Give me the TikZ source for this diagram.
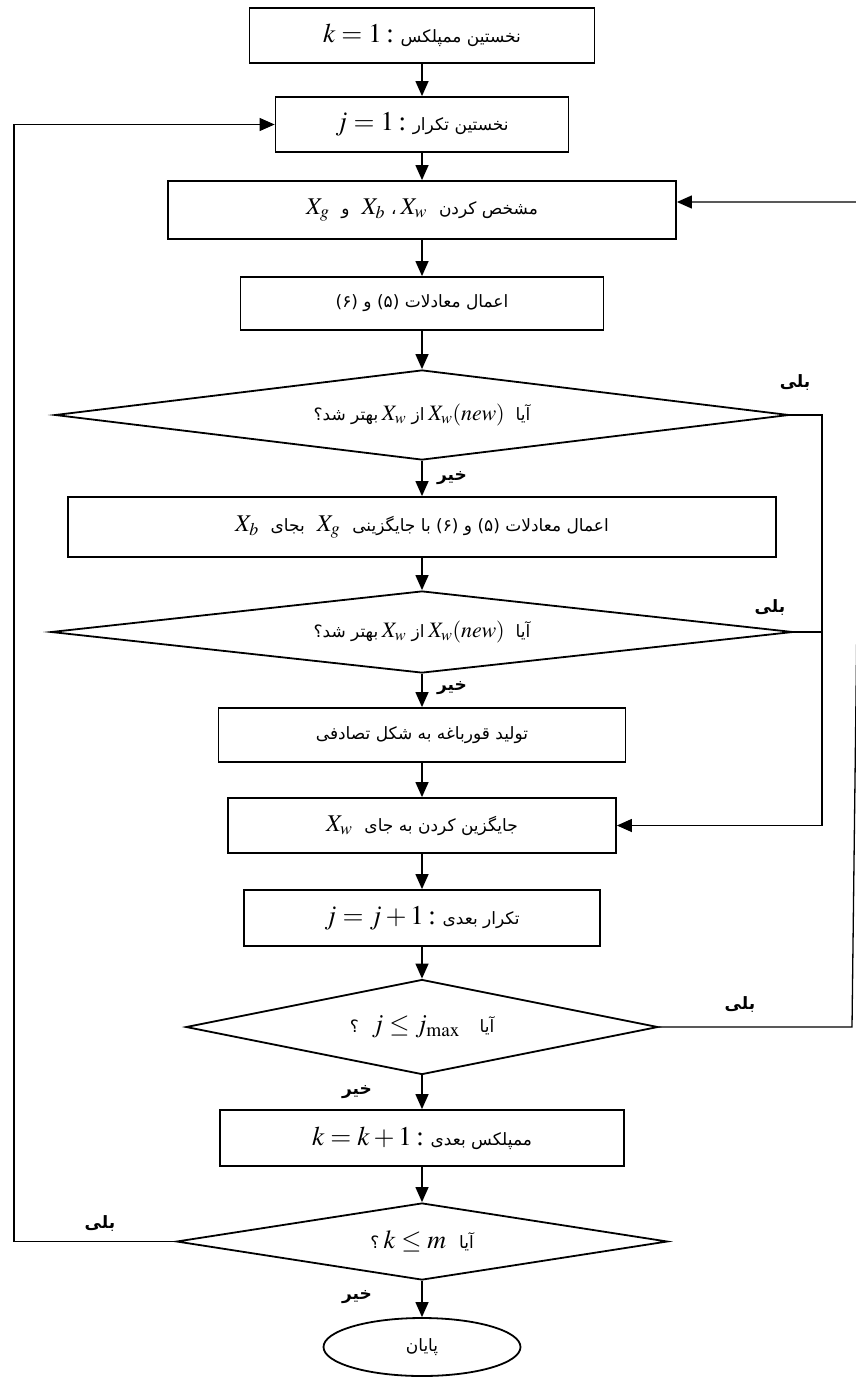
\documentclass[tikz,border=0pt]{standalone}
\usepackage{mathptmx}
\usepackage[no-math]{fontspec}
\setmainfont{Liberation Serif}
\newfontfamily\fa[Script=Arabic]{DejaVu Sans}
\TeXXeTstate=1
\usepackage{tikz}
\usetikzlibrary{shapes.geometric}
\usetikzlibrary{arrows.meta}
\newcommand{\fatxt}[1]{{\fontsize{17}{20}\fa\beginR #1\endR}}
\newcommand{\fabold}[1]{{\fontsize{17}{20}\fa\bfseries\beginR #1\endR}}

\begin{document}
\begin{tikzpicture}[x=1pt, y=-1pt,
        every node/.style = {inner sep=0pt, font=\fontsize{27}{30}\selectfont},
        box/.style = {draw, line width=1.8pt, rectangle, minimum width=#1, minimum height=55pt},
        decision/.style = {draw, line width=1.8pt, diamond, aspect=6, font=\fontsize{22}{24}\selectfont},
        lbl/.style = {font=\fontsize{17}{20}\selectfont},
        arr/.style = {line width=1.3pt, -{Triangle[length=15pt,width=13pt]}},
        wire/.style = {line width=1.1pt}
        ]
        \useasboundingbox (0,0) rectangle (856,1378);
        \node[box=345] (first) at (422,35.5) {$k=1$\,:\ \fatxt{نخستین ممپلکس}};
        \node[box=293] (iter) at (422,124.5) {$j=1$\,:\ \fatxt{نخستین تکرار}};
        \node[box=508, minimum height=58pt, font=\fontsize{24}{26}\selectfont] (pick) at (422,210)
            {$X_g$\ \ \fatxt{و}\ \ $X_b$\ \fatxt{،}\,$X_w$\ \ \fatxt{مشخص کردن}};
        \node[box=363, minimum height=53pt] (apply) at (422,303.5) {\fatxt{اعمال معادلات (۵) و (۶)}};
        \node[decision, minimum width=734pt, minimum height=90pt] (better1) at (422,415)
            {\fatxt{بهتر شد؟}\,$X_w$\ \fatxt{از}\,$X_w(new)$\ \ \fatxt{آیا}};
        \node[box=708, minimum height=60pt, font=\fontsize{24}{26}\selectfont] (swap) at (422,527)
            {$X_b$\ \ \fatxt{بجای}\ \ $X_g$\ \ \fatxt{اعمال معادلات (۵) و (۶) با جایگزینی}};
        \node[decision, minimum width=742pt, minimum height=82pt] (better2) at (422,632)
            {\fatxt{بهتر شد؟}\,$X_w$\ \fatxt{از}\,$X_w(new)$\ \ \fatxt{آیا}};
        \node[box=407, minimum height=54pt] (frog) at (422,735) {\fatxt{تولید قورباغه به شکل تصادفی}};
        \node[box=388, font=\fontsize{24}{26}\selectfont] (replace) at (422,825.5)
            {$X_w$\ \ \fatxt{جایگزین کردن به جای}};
        \node[box=356, minimum height=56pt] (nextj) at (422,918) {$j=j+1$\,:\ \fatxt{تکرار بعدی}};
        \node[decision, minimum width=472pt, minimum height=95pt, font=\fontsize{26}{28}\selectfont] (jmax) at (422,1027)
            {\fatxt{؟}\ \ $j\le j_{\max}$\ \ \ \fatxt{آیا}};
        \node[box=404, minimum height=56pt] (nextk) at (422,1138) {$k=k+1$\,:\ \fatxt{ممپلکس بعدی}};
        \node[decision, minimum width=491pt, minimum height=77pt, font=\fontsize{26}{28}\selectfont] (kmax) at (422,1241.5)
            {\fatxt{؟}\,$k\le m$\ \ \fatxt{آیا}};
        \node[draw, line width=1.8pt, ellipse, minimum width=197pt, minimum height=58pt] (stop) at (422,1347)
            {\fatxt{پایان}};
        \node[lbl] (yes1) at (795,383) {\fabold{بلی}};
        \node[lbl] (no1) at (452,478) {\fabold{خیر}};
        \node[lbl] (yes2) at (770,608) {\fabold{بلی}};
        \node[lbl] (no2) at (452,688) {\fabold{خیر}};
        \node[lbl] (yes3) at (740,1005) {\fabold{بلی}};
        \node[lbl] (no3) at (357,1092) {\fabold{خیر}};
        \node[lbl] (yes4) at (100,1223) {\fabold{بلی}};
        \node[lbl] (no4) at (357,1297) {\fabold{خیر}};
        \coordinate (right1) at (822,415);
        \coordinate (right2) at (852,1027);
        \coordinate (right3) at (862,202);
        \coordinate (left1) at (14,1241.5);
        \draw[arr] (first) -- (iter);
        \draw[arr] (iter) -- (pick);
        \draw[arr] (pick) -- (apply);
        \draw[arr] (apply) -- (better1);
        \draw[arr] (better1) -- (swap);
        \draw[arr] (swap) -- (better2);
        \draw[arr] (better2) -- (frog);
        \draw[arr] (frog) -- (replace);
        \draw[arr] (replace) -- (nextj);
        \draw[arr] (nextj) -- (jmax);
        \draw[arr] (jmax) -- (nextk);
        \draw[arr] (nextk) -- (kmax);
        \draw[arr] (kmax) -- (stop);
        \draw[wire, arr] (better1.east) -- (right1) |- (replace.east);
        \draw[wire] (better2.east) -- (better2.east -| right1);
        \draw[wire, arr] (jmax.east) -- (right2) -- (right3) -- ([yshift=8pt]pick.east);
        \draw[wire, arr] (kmax.west) -- (left1) |- (iter.west);
\end{tikzpicture}
\end{document}
